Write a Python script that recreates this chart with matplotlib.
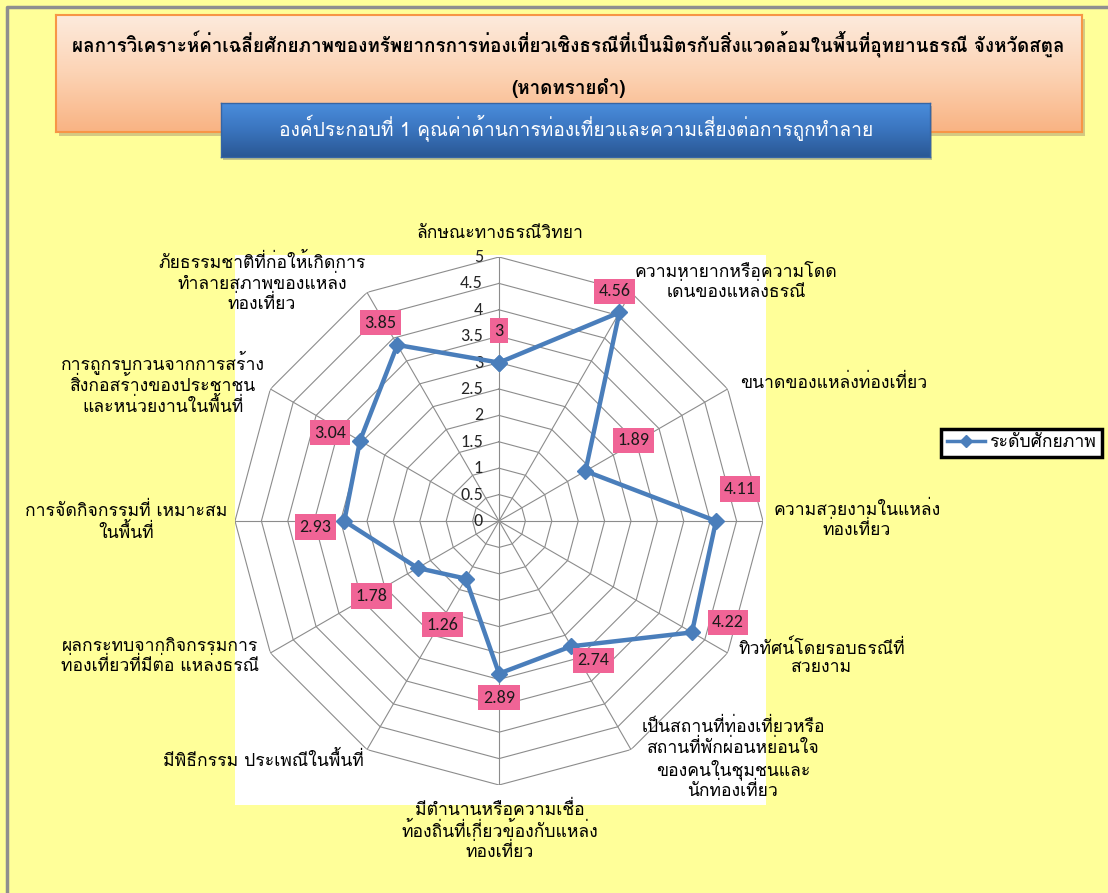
import numpy as np
import matplotlib
matplotlib.use('Agg')
import matplotlib.pyplot as plt
from matplotlib.patches import Rectangle
from matplotlib.lines import Line2D
from matplotlib.colors import LinearSegmentedColormap

# ข้อมูล
categories = [
    'ลักษณะทางธรณีวิทยา',
    'ความหายากหรือความโดด\nเด่นของแหล่งธรณี',
    'ขนาดของแหล่งท่องเที่ยว',
    'ความสวยงามในแหล่ง\nท่องเที่ยว',
    'ทิวทัศน์โดยรอบธรณีที่\nสวยงาม',
    'เป็นสถานที่ท่องเที่ยวหรือ\nสถานที่พักผ่อนหย่อนใจ\nของคนในชุมชนและ\nนักท่องเที่ยว',
    'มีตำนานหรือความเชื่อ\nท้องถิ่นที่เกี่ยวข้องกับแหล่ง\nท่องเที่ยว',
    'มีพิธีกรรม ประเพณีในพื้นที่',
    'ผลกระทบจากกิจกรรมการ\nท่องเที่ยวที่มีต่อ แหล่งธรณี',
    'การจัดกิจกรรมที่ เหมาะสม\nในพื้นที่',
    'การถูกรบกวนจากการสร้าง\nสิ่งก่อสร้างของประชาชน\nและหน่วยงานในพื้นที่',
    'ภัยธรรมชาติที่ก่อให้เกิดการ\nทำลายสภาพของแหล่ง\nท่องเที่ยว',
]
values = [3, 4.56, 1.89, 4.11, 4.22, 2.74, 2.89, 1.26, 1.78, 2.93, 3.04, 3.85]
r_ticks = [0, 0.5, 1, 1.5, 2, 2.5, 3, 3.5, 4, 4.5, 5]
series_name = 'ระดับศักยภาพ'
title1 = 'ผลการวิเคราะห์ค่าเฉลี่ยศักยภาพของทรัพยากรการท่องเที่ยวเชิงธรณีที่เป็นมิตรกับสิ่งแวดล้อมในพื้นที่อุทยานธรณี จังหวัดสตูล'
title2 = '(หาดทรายดำ)'
subtitle = 'องค์ประกอบที่ 1 คุณค่าด้านการท่องเที่ยวและความเสี่ยงต่อการถูกทำลาย'

# ตำแหน่งป้าย (พิกเซล) - layout only
label_pos = [(500, 234), (736, 283), (834, 383), (857, 520), (822, 658), (733, 759),
             (500, 831), (263, 760), (160, 657), (126, 522), (163, 383), (262, 283)]
value_offsets = [(0, -32), (-5, -21), (48, -31), (24, -32), (36, -10), (22, 14),
                 (0, 24), (-23, 46), (-46, 28), (-29, 6), (-30, -8), (-17, -22)]

THAI = ['Loma', 'Noto Sans Thai Looped', 'DejaVu Sans']
NUM = ['Carlito', 'Lato', 'DejaVu Sans']

W, H = 1108, 893
fig = plt.figure(figsize=(W / 100, H / 100), dpi=100, facecolor='#FFFF99')


def fx(px):
    return px / W


def fy(py):
    return 1 - py / H


renderer = fig.canvas.get_renderer()


def fit_width(t, target):
    w = t.get_window_extent(renderer).width
    t.set_fontsize(t.get_fontsize() * target / w)


# กรอบสีเทา
fig.add_artist(Line2D([fx(7), fx(7), 1], [0, fy(7), fy(7)], color='#8f8f8f', lw=2.5,
                      transform=fig.transFigure, zorder=10))

# พื้นที่กราฟสีขาว
fig.add_artist(Rectangle((fx(235), fy(805)), (766 - 235) / W, (805 - 255) / H,
                         transform=fig.transFigure, fc='white', ec='none', zorder=-2))

# กล่องหัวเรื่องสีส้ม
fig.add_artist(Rectangle((fx(59), fy(136)), (1082 - 56) / W, (132 - 15) / H,
                         transform=fig.transFigure, fc='#a08a6a', ec='none', alpha=0.45, zorder=0.5))
ax_o = fig.add_axes([fx(56), fy(132), (1082 - 56) / W, (132 - 15) / H], zorder=1)
grad = np.linspace(0, 1, 200)[:, None]
ax_o.imshow(grad, aspect='auto', extent=[0, 1, 0, 1], origin='upper',
            cmap=LinearSegmentedColormap.from_list('org', ['#FDEBDD', '#FCD3B4', '#F9B383']))
ax_o.set_xticks([])
ax_o.set_yticks([])
for sp in ax_o.spines.values():
    sp.set_color('#F79646')
    sp.set_linewidth(1.5)

# กล่องสีน้ำเงิน
fig.add_artist(Rectangle((fx(223), fy(160)), (930 - 221) / W, (157 - 103) / H,
                         transform=fig.transFigure, fc='#707070', ec='none', alpha=0.4, zorder=1.5))
ax_b = fig.add_axes([fx(221), fy(157), (930 - 221) / W, (157 - 103) / H], zorder=2)
ax_b.imshow(grad, aspect='auto', extent=[0, 1, 0, 1], origin='upper',
            cmap=LinearSegmentedColormap.from_list('blu', ['#4A8DDC', '#3A74BE', '#2A5894']))
ax_b.set_xticks([])
ax_b.set_yticks([])
for sp in ax_b.spines.values():
    sp.set_color('#3565A5')
    sp.set_linewidth(1)

t1 = fig.text(fx(568), fy(45), title1, ha='center', va='center', fontsize=16,
              family=THAI, fontweight='bold', color='black', zorder=5)
fit_width(t1, 993)
fig.text(fx(568), fy(88), title2, ha='center', va='center', fontsize=t1.get_fontsize(),
         family=THAI, fontweight='bold', color='black', zorder=5)
t3 = fig.text(fx(576), fy(128), subtitle, ha='center', va='center', fontsize=14,
              family=THAI, color='white', zorder=5)
fit_width(t3, 592)

# เรดาร์
cx, cy, rad = 499, 521, 264
ax = fig.add_axes([fx(cx - rad), fy(cy + rad), 2 * rad / W, 2 * rad / H], projection='polar')
ax.set_theta_zero_location('N')
ax.set_theta_direction(-1)
ax.set_ylim(0, 5)
ax.grid(False)
ax.set_xticks([])
ax.set_yticks([])
ax.spines['polar'].set_visible(False)
ax.patch.set_visible(False)

n = len(values)
theta = np.linspace(0, 2 * np.pi, n, endpoint=False)
theta_c = np.append(theta, theta[0])

for r in r_ticks[1:]:
    ax.plot(theta_c, [r] * (n + 1), color='#8c8c8c', lw=0.8, zorder=1)
for th in theta:
    ax.plot([th, th], [0, 5], color='#8c8c8c', lw=0.8, zorder=1)

line, = ax.plot(theta_c, np.append(values, values[0]), color='#4A7EBB', lw=3.2,
                marker='D', ms=8, mfc='#4A7EBB', mec='#4A7EBB', zorder=5, clip_on=False)

for r in r_ticks:
    ax.annotate(f'{r:g}', xy=(0, r), xytext=(-16, 0), textcoords='offset pixels',
                ha='right', va='center', fontsize=13, family=NUM, color='#262626')

for th, v, (dx, dy) in zip(theta, values, value_offsets):
    ax.annotate(f'{v:g}', xy=(th, v), xytext=(dx, -dy), textcoords='offset pixels',
                ha='center', va='center', fontsize=13, family=NUM, color='#1a1a1a', zorder=6,
                bbox=dict(boxstyle='square,pad=0.25', fc='#F06496', ec='none'))

# ป้ายหมวดหมู่
lab0 = fig.text(fx(label_pos[0][0]), fy(label_pos[0][1]), categories[0], ha='center', va='center',
                fontsize=11, family=THAI, color='black')
fit_width(lab0, 167)
fs = lab0.get_fontsize()
for (px, py), name in zip(label_pos[1:], categories[1:]):
    fig.text(fx(px), fy(py), name, ha='center', va='center', fontsize=fs, family=THAI,
             color='black', linespacing=1.15, multialignment='center')

leg = fig.legend(handles=[line], labels=[series_name], loc='center right',
                 bbox_to_anchor=(fx(1102), fy(443)), frameon=True, fancybox=False,
                 edgecolor='black', facecolor='white', framealpha=1, handlelength=2.2,
                 handletextpad=0.2, borderpad=0.35, borderaxespad=0, prop={'family': THAI, 'size': fs})
leg.get_frame().set_linewidth(2.5)
leg.get_lines()[0].set_linewidth(2.5)
leg.get_lines()[0].set_markersize(6)

fig.savefig('out.png', dpi=100, facecolor=fig.get_facecolor())
